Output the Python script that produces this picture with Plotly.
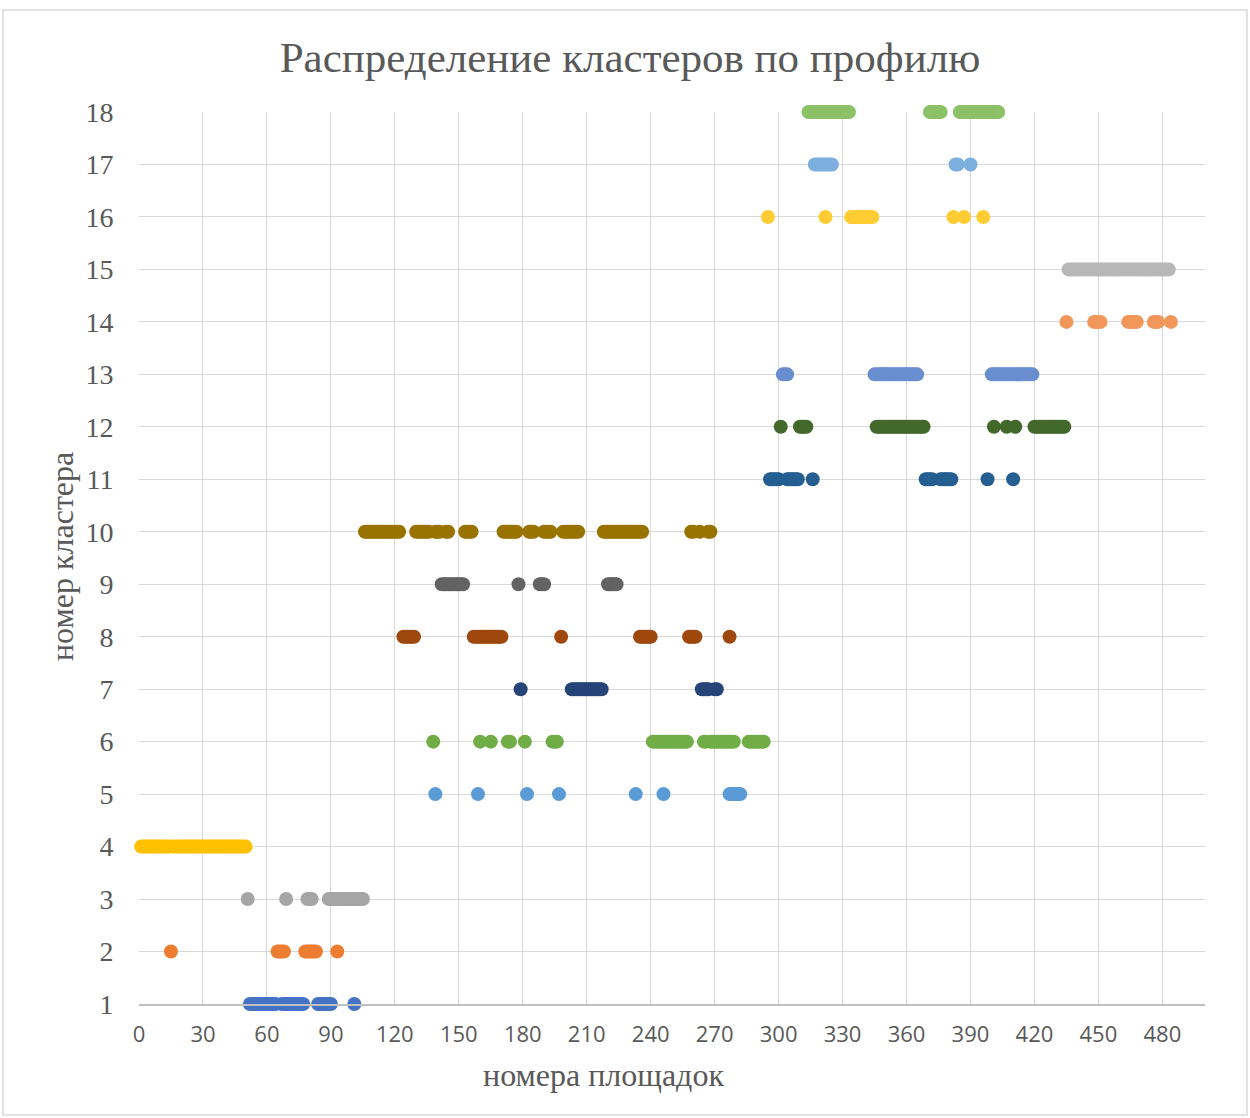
import plotly.graph_objects as go

# x positions (site numbers) per cluster
c1 = [52,53,54,55,56,57,58,59,60,61,62,63,64,67,68,69,70,71,72,73,74,75,76,77,84,85,86,87,88,89,90,101]
c2 = [15,65,66,67,68,78,79,80,81,82,83,93]
c3 = [51,69,79,80,81,89,90,91,92,93,94,95,96,97,98,99,100,101,102,103,104,105]
c4 = [1,2,3,4,5,6,7,8,9,10,11,12,13,14,16,17,18,19,20,21,22,23,24,25,26,27,28,29,30,31,32,33,34,35,36,37,38,39,40,41,42,43,44,45,46,47,48,49,50]
c5 = [139,159,182,197,233,246,277,278,279,280,281,282]
c6 = [138,160,165,173,174,181,194,195,196,241,242,243,244,245,246,247,248,249,250,251,252,253,254,255,256,257,
      265,266,268,269,270,271,272,273,274,275,276,277,278,279,286,287,288,289,290,291,292,293]
c7 = [179,203,204,205,206,207,208,209,210,211,212,213,214,215,216,217,264,265,266,267,270,271]
c8 = [124,125,126,127,128,129,157,158,159,160,161,162,163,164,165,166,167,168,169,170,198,235,236,237,238,239,240,258,259,260,261,277]
c9 = [142,143,144,145,146,147,148,149,150,151,152,178,188,189,190,220,221,222,223,224]
c10 = [106,107,108,109,110,111,112,113,114,115,116,117,118,119,120,121,122,130,131,132,133,134,135,136,139,140,141,144,145,
       153,154,155,156,171,172,173,174,175,176,177,183,184,185,190,191,192,193,199,200,201,202,203,204,205,206,
       218,219,220,221,222,223,224,225,226,227,228,229,230,231,232,233,234,235,236,259,260,263,267,268]
c11 = [296,297,298,299,300,304,305,306,307,308,309,316,369,370,371,372,376,377,378,379,380,381,398,410]
c12 = [301,310,311,312,313,346,347,348,349,350,351,352,353,354,355,356,357,358,359,360,361,362,363,364,365,366,367,368,
       401,407,411,420,421,422,423,424,425,426,427,428,429,430,431,432,433,434]
c13 = [302,303,304,345,346,347,348,349,350,351,352,353,354,355,356,357,358,359,360,361,362,363,364,365,
       400,401,402,403,404,405,406,407,408,409,410,411,412,413,414,415,416,417,418,419]
c14 = [435,448,449,450,451,464,465,466,467,468,476,477,478,484]
c15 = [436,437,438,439,440,441,442,443,444,445,446,447,448,449,450,451,452,453,454,455,456,457,458,459,460,
       461,462,463,464,465,466,467,468,469,470,471,472,473,474,475,476,477,478,479,480,481,482,483]
c16 = [295,322,334,335,336,337,338,339,340,341,342,343,344,382,387,396]
c17 = [317,318,319,320,321,322,323,324,325,383,384,390]
c18 = [314,315,316,317,318,319,320,321,322,323,324,325,326,327,328,329,330,331,332,333,371,372,373,374,375,376,
       385,386,387,388,389,390,391,392,393,394,395,396,397,398,399,400,401,402,403]

clusters = [c1,c2,c3,c4,c5,c6,c7,c8,c9,c10,c11,c12,c13,c14,c15,c16,c17,c18]
cluster_ids = list(range(1, 19))
colors = ["#4472C4","#ED7D31","#A5A5A5","#FFC000","#5B9BD5","#70AD47","#264478","#9E480E","#636363",
          "#997300","#255E91","#43682B","#698ED0","#F1975A","#B7B7B7","#FFCD33","#7CAFDD","#8CC168"]

x_ticks = [0,30,60,90,120,150,180,210,240,270,300,330,360,390,420,450,480]

fig = go.Figure()
for cid, xs, col in zip(cluster_ids, clusters, colors):
    fig.add_trace(go.Scatter(
        x=xs, y=[cid]*len(xs), mode="markers", name=str(cid),
        marker=dict(color=col, size=14, line=dict(width=0)),
        cliponaxis=False, showlegend=False))

fig.update_layout(
    width=1250, height=1118,
    margin=dict(l=139, r=45, t=112, b=114),
    paper_bgcolor="white", plot_bgcolor="white",
    title=dict(text="Распределение кластеров по профилю", x=0.504, xanchor="center",
               y=1-57/1118, yanchor="middle",
               font=dict(family="Liberation Serif", size=43, color="#595959")),
    xaxis=dict(range=[0, 500], tickvals=x_ticks, showgrid=True, gridcolor="#D9D9D9", gridwidth=1.3,
               zeroline=False, showline=True, linecolor="#BFBFBF", linewidth=1.5,
               ticks="outside", ticklen=10, tickcolor="rgba(0,0,0,0)",
               tickfont=dict(family="Open Sans", size=22, color="#595959")),
    yaxis=dict(range=[1, 18], tickvals=cluster_ids, showgrid=True, gridcolor="#D9D9D9", gridwidth=1.3,
               zeroline=False, showline=False,
               ticks="outside", ticklen=19, tickcolor="rgba(0,0,0,0)",
               tickfont=dict(family="Liberation Serif", size=28, color="#595959")),
    shapes=[dict(type="rect", xref="paper", yref="paper",
                 x0=(3-139)/1066, x1=(1247-139)/1066, y0=(1004-1115)/892, y1=(1004-10)/892,
                 line=dict(color="#D9D9D9", width=1.5), fillcolor="rgba(0,0,0,0)", layer="below")],
    annotations=[
        dict(text="номера площадок", xref="paper", yref="paper", x=(603-139)/1066, y=(1004-1075)/892,
             xanchor="center", yanchor="middle", showarrow=False,
             font=dict(family="Liberation Serif", size=32, color="#595959")),
        dict(text="номер кластера", xref="paper", yref="paper", x=(62-139)/1066, y=(1004-557)/892,
             xanchor="center", yanchor="middle", showarrow=False, textangle=-90,
             font=dict(family="Liberation Serif", size=32, color="#595959")),
    ],
)

fig.write_html("out.html", config={"displayModeBar": False},
               post_script="document.body.style.margin='0';document.body.style.overflow='hidden';")
